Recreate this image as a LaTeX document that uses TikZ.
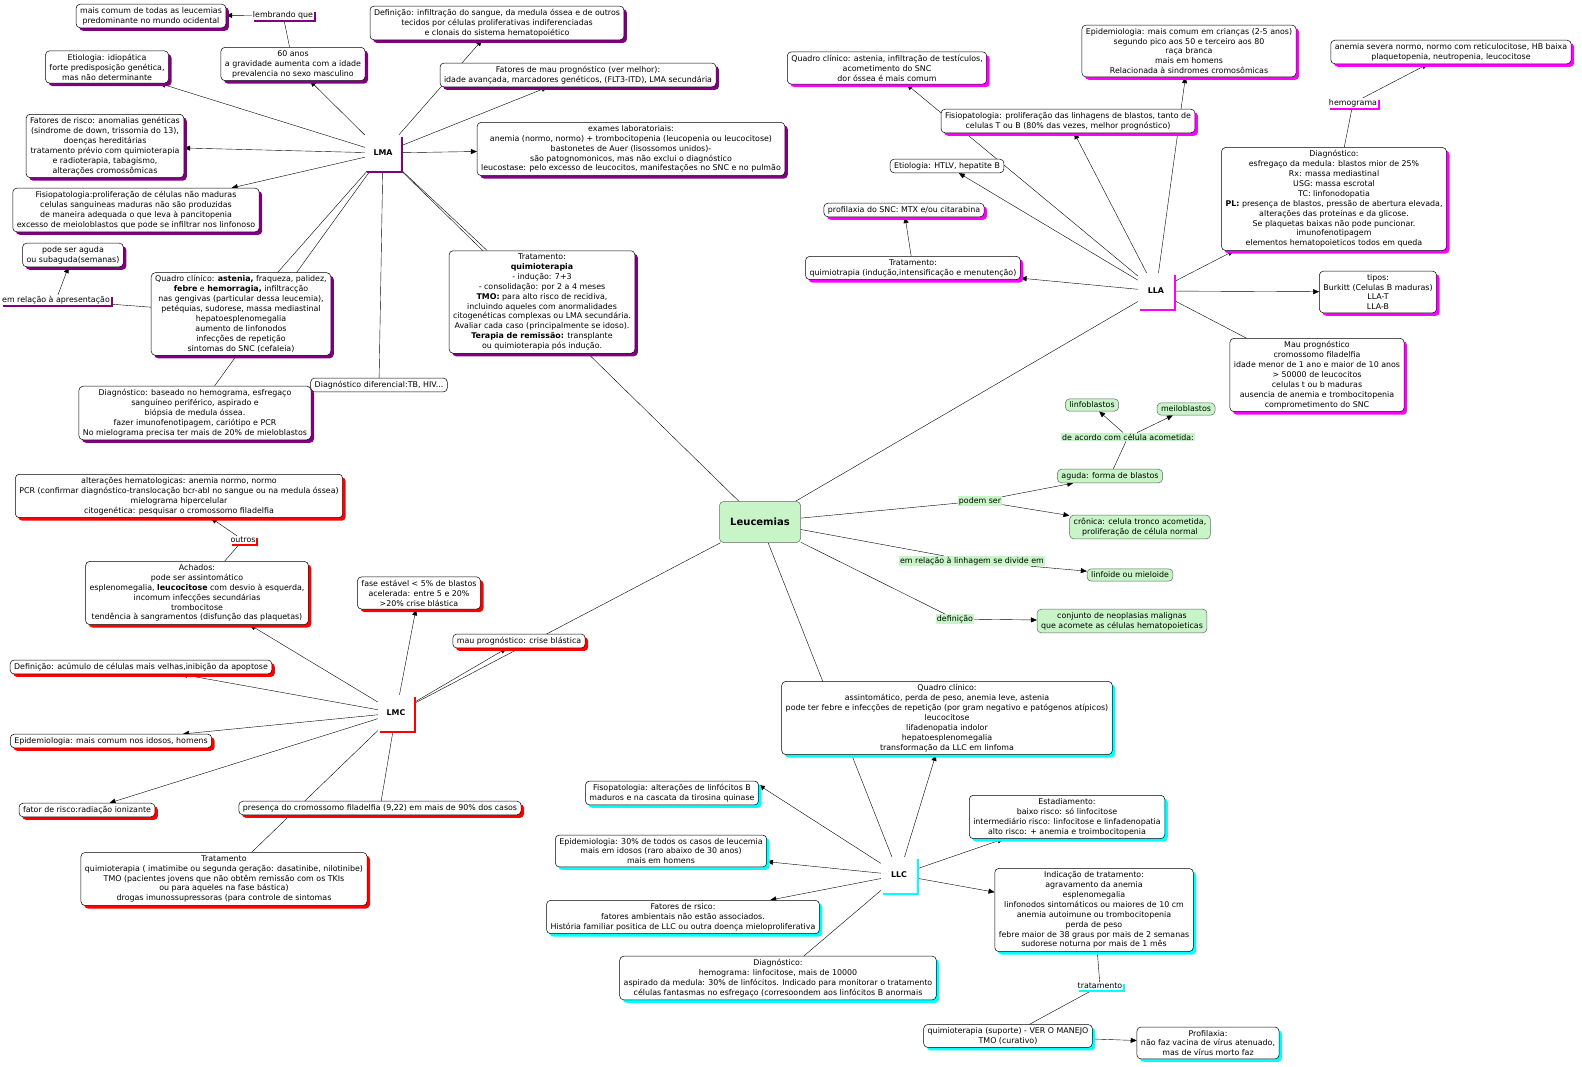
\documentclass[tikz,border=0pt]{standalone}
\usepackage{fontspec}
\setmainfont{DejaVu Sans}
\usetikzlibrary{arrows.meta,shadows,backgrounds}
\definecolor{lmacol}{HTML}{800080}
\definecolor{llacol}{HTML}{FF00FF}
\definecolor{lmccol}{HTML}{FF0000}
\definecolor{llccol}{HTML}{00FFFF}
\definecolor{leuc}{HTML}{C8F5C8}
\tikzset{
 txt/.style={font=\fontsize{7.9}{9.9}\selectfont},
 box/.style={txt, draw=black, line width=0.5pt, fill=white, rounded corners=4pt, align=center, inner xsep=4pt, inner ysep=3pt},
 shad/.style={drop shadow={shadow xshift=3pt, shadow yshift=-3pt, fill=#1, opacity=1}},
 lmabox/.style={box, shad=lmacol},
 llabox/.style={box, shad=llacol},
 lmcbox/.style={box, shad=lmccol},
 llcbox/.style={box, shad=llccol},
 hub/.style={fill=white, minimum size=36pt, font=\fontsize{7.9}{9.9}\selectfont\bfseries, drop shadow={shadow xshift=2pt, shadow yshift=-2pt, fill=#1, opacity=1}},
 link/.style={txt, fill=white, inner sep=1pt, drop shadow={shadow xshift=2pt, shadow yshift=-2pt, fill=#1, opacity=1}},
 gbox/.style={box, draw=black!60, fill=leuc},
 glink/.style={txt, fill=leuc, inner sep=1pt},
 arr/.style={-{Triangle[length=6pt,width=5pt]}},
 con/.style={line width=0.5pt},
}
\begin{document}
\begin{tikzpicture}[x=1pt,y=-1pt]
\useasboundingbox (0,0) rectangle (1582,1066);
% centro
\node[gbox, font=\fontsize{10}{12}\selectfont\bfseries, minimum width=81pt, minimum height=41pt] (leu) at (760,522) {Leucemias};
\node[glink] (podem) at (980,501) {podem ser};
\node[gbox] (aguda) at (1110,476) {aguda: forma de blastos};
\node[gbox] (cronica) at (1140,527) {crônica: celula tronco acometida,\\proliferação de célula normal};
\node[glink] (acordo) at (1128,437) {de acordo com célula acometida:};
\node[gbox] (linfob) at (1092,405) {linfoblastos};
\node[gbox] (mielob) at (1186,409) {meiloblastos};
\node[glink] (linhagem) at (972,561) {em relação à linhagem se divide em};
\node[gbox] (linfoide) at (1130,575) {linfoide ou mieloide};
\node[glink] (defin) at (955,619) {definição};
\node[gbox] (conjunto) at (1122,621) {conjunto de neoplasias malignas\\que acomete as células hematopoieticas};
% LMA
\node[hub=lmacol] (lma) at (383,153) {LMA};
\node[lmabox] (lmaComum) at (151,16) {mais comum de todas as leucemias\\predominante no mundo ocidental};
\node[link=lmacol] (lembrando) at (283,15) {lembrando que};
\node[lmabox] (lmaIdade) at (293,64) {60 anos\\a gravidade aumenta com a idade\\prevalencia no sexo masculino};
\node[lmabox] (lmaEtio) at (107,67) {Etiologia: idiopática\\forte predisposição genética,\\mas não determinante};
\node[lmabox] (lmaRisco) at (105,146) {Fatores de risco: anomalias genéticas\\(sindrome de down, trissomia do 13),\\doenças hereditárias\\tratamento prévio com quimioterapia\\e radioterapia, tabagismo,\\alterações cromossômicas};
\node[lmabox] (lmaFisio) at (136,210) {Fisiopatologia:proliferação de células não maduras\\celulas sanguineas maduras não são produzidas\\de maneira adequada o que leva à pancitopenia\\excesso de meioloblastos que pode se infiltrar nos linfonoso};
\node[lmabox] (lmaAguda) at (73,255) {pode ser aguda\\ou subaguda(semanas)};
\node[link=lmacol] (apresent) at (56,300) {em relação à apresentação};
\node[lmabox] (lmaQuadro) at (241,314) {Quadro clínico: \textbf{astenia,} fraqueza, palidez,\\\textbf{febre} e \textbf{hemorragia,} infiltracção\\nas gengivas (particular dessa leucemia),\\petéquias, sudorese, massa mediastinal\\hepatoesplenomegalia\\aumento de linfonodos\\infecções de repetição\\sintomas do SNC (cefaleia)};
\node[box] (lmaDifer) at (379,385) {Diagnóstico diferencial:TB, HIV...};
\node[lmabox] (lmaDiag) at (195,413) {Diagnóstico: baseado no hemograma, esfregaço\\sanguíneo periférico, aspirado e\\biópsia de medula óssea.\\fazer imunofenotipagem, cariótipo e PCR\\No mielograma precisa ter mais de 20\% de mieloblastos};
\node[lmabox] (lmaDef) at (497,23) {Definição: infiltração do sangue, da medula óssea e de outros\\tecidos por células proliferativas indiferenciadas\\e clonais do sistema hematopoiético};
\node[lmabox] (lmaMau) at (578,75) {Fatores de mau prognóstico (ver melhor):\\idade avançada, marcadores genéticos, (FLT3-ITD), LMA secundária};
\node[lmabox] (lmaExames) at (631,149) {exames laboratoriais:\\anemia (normo, normo) + trombocitopenia (leucopenia ou leucocitose)\\bastonetes de Auer (lisossomos unidos)-\\são patognomonicos, mas não exclui o diagnóstico\\leucostase: pelo excesso de leucocitos, manifestações no SNC e no pulmão};
\node[lmabox] (lmaTrat) at (542,302) {Tratamento:\\\textbf{quimioterapia}\\- indução: 7+3\\- consolidação: por 2 a 4 meses\\\textbf{TMO:} para alto risco de recidiva,\\incluindo aqueles com anormalidades\\citogenéticas complexas ou LMA secundária.\\Avaliar cada caso (principalmente se idoso).\\\textbf{Terapia de remissão:} transplante\\ou quimioterapia pós indução.};
% LLA
\node[hub=llacol] (lla) at (1156,291) {LLA};
\node[llabox] (llaQuadro) at (887,68) {Quadro clínico: astenia, infiltração de testículos,\\acometimento do SNC\\dor óssea é mais comum};
\node[llabox] (llaFisio) at (1068,121) {Fisiopatologia: proliferação das linhagens de blastos, tanto de\\celulas T ou B (80\% das vezes, melhor prognóstico)};
\node[box] (llaEtio) at (947,166) {Etiologia: HTLV, hepatite B};
\node[llabox] (llaProf) at (904,210) {profilaxia do SNC: MTX e/ou citarabina};
\node[llabox] (llaTrat) at (913,268) {Tratamento:\\quimiotrapia (indução,intensificação e menutenção)};
\node[llabox] (llaEpid) at (1189,51) {Epidemiologia: mais comum em crianças (2-5 anos)\\segundo pico aos 50 e terceiro aos 80\\raça branca\\mais em homens\\Relacionada à sindromes cromosômicas};
\node[llabox] (llaAnemia) at (1451,52) {anemia severa normo, normo com reticulocitose, HB baixa\\plaquetopenia, neutropenia, leucocitose};
\node[link=llacol] (hemog) at (1353,103) {hemograma};
\node[llabox] (llaDiag) at (1334,199) {Diagnóstico:\\esfregaço da medula: blastos mior de 25\%\\Rx: massa mediastinal\\USG: massa escrotal\\TC: linfonodopatia\\\textbf{PL:} presença de blastos, pressão de abertura elevada,\\alterações das proteínas e da glicose.\\Se plaquetas baixas não pode puncionar.\\imunofenotipagem\\elementos hematopoieticos todos em queda};
\node[llabox] (llaTipos) at (1378,292) {tipos:\\Burkitt (Celulas B maduras)\\LLA-T\\LLA-B};
\node[llabox] (llaMau) at (1317,375) {Mau prognóstico\\cromossomo filadelfia\\idade menor de 1 ano e maior de 10 anos\\> 50000 de leucocitos\\celulas t ou b maduras\\ausencia de anemia e trombocitopenia\\comprometimento do SNC};
% LMC
\node[hub=lmccol] (lmc) at (396,713) {LMC};
\node[lmcbox] (lmcAlter) at (179,496) {alterações hematologicas: anemia normo, normo\\PCR (confirmar diagnóstico-translocação bcr-abl no sangue ou na medula óssea)\\mielograma hipercelular\\citogenética: pesquisar o cromossomo filadelfia};
\node[link=lmccol] (outros) at (243,540) {outros};
\node[lmcbox] (lmcAchados) at (197,593) {Achados:\\pode ser assintomático\\esplenomegalia, \textbf{leucocitose} com desvio à esquerda,\\incomum infecções secundárias\\trombocitose\\tendência à sangramentos (disfunção das plaquetas)};
\node[lmcbox] (lmcDef) at (141,667) {Definição: acúmulo de células mais velhas,inibição da apoptose};
\node[lmcbox] (lmcFase) at (419,593) {fase estável < 5\% de blastos\\acelerada: entre 5 e 20\%\\>20\% crise blástica};
\node[lmcbox] (lmcMau) at (519,641) {mau prognóstico: crise blástica};
\node[lmcbox] (lmcEpid) at (111,741) {Epidemiologia: mais comum nos idosos, homens};
\node[lmcbox] (lmcRisco) at (87,810) {fator de risco:radiação ionizante};
\node[lmcbox] (lmcPh) at (380,808) {presença do cromossomo filadelfia (9,22) em mais de 90\% dos casos};
\node[lmcbox] (lmcTrat) at (224,879) {Tratamento\\quimioterapia ( imatimibe ou segunda geração: dasatinibe, nilotinibe)\\TMO (pacientes jovens que não obtêm remissão com os TKIs\\ou para aqueles na fase bástica)\\drogas imunossupressoras (para controle de sintomas};
% LLC
\node[hub=llccol] (llc) at (899,875) {LLC};
\node[llcbox] (llcFisio) at (672,793) {Fisopatologia: alterações de linfócitos B\\maduros e na cascata da tirosina quinase};
\node[llcbox] (llcEpid) at (661,851) {Epidemiologia: 30\% de todos os casos de leucemia\\mais em idosos (raro abaixo de 30 anos)\\mais em homens};
\node[llcbox] (llcRisco) at (683,917) {Fatores de rsico:\\fatores ambientais não estão associados.\\História familiar positica de LLC ou outra doença mieloproliferativa};
\node[llcbox] (llcDiag) at (778,978) {Diagnóstico:\\hemograma: linfocitose, mais de 10000\\aspirado da medula: 30\% de linfócitos. Indicado para monitorar o tratamento\\células fantasmas no esfregaço (corresoondem aos linfócitos B anormais};
\node[llcbox] (llcQuadro) at (947,718) {Quadro clínico:\\assintomático, perda de peso, anemia leve, astenia\\pode ter febre e infecções de repetição (por gram negativo e patógenos atípicos)\\leucocitose\\lifadenopatia indolor\\hepatoesplenomegalia\\transformação da LLC em linfoma};
\node[llcbox] (llcEstad) at (1067,817) {Estadiamento:\\baixo risco: só linfocitose\\intermediário risco: linfocitose e linfadenopatia\\alto risco: + anemia e troimbocitopenia};
\node[llcbox] (llcIndic) at (1094,910) {Indicação de tratamento:\\agravamento da anemia\\esplenomegalia\\linfonodos sintomáticos ou maiores de 10 cm\\anemia autoimune ou trombocitopenia\\perda de peso\\febre maior de 38 graus por mais de 2 semanas\\sudorese noturna por mais de 1 mês};
\node[link=llccol] (tratam) at (1100,986) {tratamento};
\node[llcbox] (llcQuimio) at (1008,1036) {quimioterapia (suporte) - VER O MANEJO\\TMO (curativo)};
\node[llcbox] (llcProf) at (1208,1043) {Profilaxia:\\não faz vacina de vírus atenuado,\\mas de vírus morto faz};
% ligacoes
\begin{scope}[on background layer, con]
 \fill[white] (0,0) rectangle (1582,1066);
 \draw (leu) -- (lma);
 \draw (leu) -- (lla);
 \draw (leu) -- (lmc);
 \draw (leu) -- (llc);
 \draw (leu) -- (podem);
 \draw[arr] (podem) -- (aguda);
 \draw[arr] (podem) -- (cronica);
 \draw (aguda) -- (acordo);
 \draw[arr] (acordo) -- (linfob);
 \draw[arr] (acordo) -- (mielob);
 \draw (leu) -- (linhagem);
 \draw[arr] (linhagem) -- (linfoide);
 \draw (leu) -- (defin);
 \draw[arr] (defin) -- (conjunto);
 % LMA
 \draw (lmaIdade) -- (lembrando);
 \draw[arr] (lembrando) -- (lmaComum);
 \draw[arr] (lma) -- (lmaIdade);
 \draw[arr] (lma) -- (lmaEtio);
 \draw[arr] (lma) -- (lmaRisco);
 \draw[arr] (lma) -- (lmaFisio);
 \draw (lma) -- (lmaQuadro);
 \draw (lma) -- (lmaDiag);
 \draw (lma) -- (lmaDifer);
 \draw (lma) -- (lmaTrat);
 \draw[arr] (lma) -- (lmaDef);
 \draw[arr] (lma) -- (lmaMau);
 \draw[arr] (lma) -- (lmaExames);
 \draw (lmaQuadro) -- (apresent);
 \draw[arr] (apresent) -- (lmaAguda);
 % LLA
 \draw[arr] (lla) -- (llaQuadro);
 \draw[arr] (lla) -- (llaEtio);
 \draw[arr] (lla) -- (llaFisio);
 \draw[arr] (lla) -- (llaEpid);
 \draw[arr] (lla) -- (llaTrat);
 \draw[arr] (llaTrat) -- (llaProf);
 \draw[arr] (lla) -- (llaDiag);
 \draw[arr] (lla) -- (llaTipos);
 \draw (lla) -- (llaMau);
 \draw (llaDiag) -- (hemog);
 \draw[arr] (hemog) -- (llaAnemia);
 % LMC
 \draw[arr] (lmc) -- (lmcAchados);
 \draw (lmcAchados) -- (outros);
 \draw[arr] (outros) -- (lmcAlter);
 \draw[arr] (lmc) -- (lmcDef);
 \draw[arr] (lmc) -- (lmcFase);
 \draw[arr] (lmc) -- (lmcMau);
 \draw[arr] (lmc) -- (lmcEpid);
 \draw[arr] (lmc) -- (lmcRisco);
 \draw (lmc) -- (lmcPh);
 \draw (lmc) -- (lmcTrat);
 % LLC
 \draw[arr] (llc) -- ([yshift=8pt]llcFisio.east);
 \draw[arr] (llc) -- (llcEpid);
 \draw[arr] (llc) -- (llcRisco);
 \draw (llc) -- (llcDiag);
 \draw[arr] (llc) -- (llcQuadro);
 \draw[arr] (llc) -- (llcEstad);
 \draw[arr] (llc) -- (llcIndic);
 \draw (llcIndic) -- (tratam);
 \draw (tratam) -- (llcQuimio);
 \draw[arr] (llcQuimio) -- (llcProf);
\end{scope}
\end{tikzpicture}
\end{document}
